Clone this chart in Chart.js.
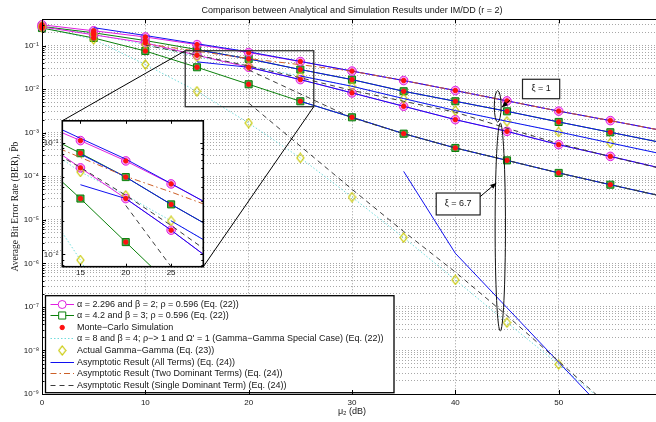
<!DOCTYPE html>
<html>
<head>
<meta charset="utf-8">
<title>BER under IM/DD</title>
<script src="https://cdn.jsdelivr.net/npm/chart.js@4.4.1/dist/chart.umd.min.js"></script>
<style>
  html, body { margin: 0; padding: 0; background: #fff; overflow: hidden; }
  #wrap { position: relative; width: 656px; height: 422px; overflow: hidden; background: #fff; }
  #main { position: absolute; left: 0; top: 0; }
  #zoom { position: absolute; left: 40px; top: 112px; }
</style>
</head>
<body>
<div id="wrap">
  <canvas id="main" width="668" height="422"></canvas>
  <canvas id="zoom" width="170" height="172"></canvas>
</div>
<script>
// SNR axis, mu_2 in dB
const snr = [0, 5, 10, 15, 20, 25, 30, 35, 40, 45, 50, 55, 60];
const xTicks = [0, 10, 20, 30, 40, 50];
const insetXTicks = [15, 20, 25];

// Exact BER, xi = 1
const berA = [0.299, 0.218, 0.157, 0.105, 0.0690, 0.0429, 0.0259, 0.0157, 0.00925, 0.00536, 0.00312, 0.00189, 0.00112];      // alpha 2.296, beta 2
const berB = [0.274, 0.196, 0.130, 0.0809, 0.0494, 0.0281, 0.0165, 0.00891, 0.00525, 0.00309, 0.00176, 0.00102, 0.000589];   // alpha 4.2, beta 3
const berC = [0.282, 0.182, 0.105, 0.0550, 0.0339, 0.0200, 0.0116, 0.00605, 0.00321, 0.00182, 0.00104, 0.000579, 0.000324];  // alpha 8, beta 4
// Exact BER, xi = 6.7
const berD = [0.269, 0.176, 0.115, 0.0598, 0.0317, 0.0165, 0.00818, 0.00403, 0.00199, 0.00107, 0.000530, 0.000285, 0.000151];
const berE = [0.252, 0.149, 0.0748, 0.0317, 0.0129, 0.00525, 0.00225, 0.000948, 0.000445, 0.000231, 0.000119, 0.0000638, 0.0000347];
const berF = [0.263, 0.138, 0.0366, 0.00891, 0.00166, 0.000263, 3.31e-5, 3.89e-6, 4.17e-7, 4.37e-8, 4.79e-9, 5.0e-10, 5.0e-11];

// Asymptotic result, all terms
const allA = [null, 0.257, 0.170, 0.110, 0.0716, 0.0432, 0.0259, 0.0157, 0.00925, 0.00536, 0.00312, 0.00189, 0.00112];
const allB = [null, null, null, 0.0795, 0.0494, 0.0281, 0.0165, 0.00891, 0.00525, 0.00309, 0.00176, 0.00102, 0.000589];
const allC = [null, null, null, null, null, 0.0200, 0.0116, 0.00605, 0.00321, 0.00182, 0.00104, 0.000579, 0.000324];
const allD = [null, null, null, 0.0422, 0.0317, 0.0165, 0.00818, 0.00403, 0.00199, 0.00107, 0.000530, 0.000285, 0.000151];
const allE = [null, null, null, null, null, 0.00525, 0.00225, 0.000948, 0.000445, 0.000231, 0.000119, 0.0000638, 0.0000347];
const allF = [null, null, null, null, null, null, null, 1.29e-4, 1.70e-6, 9.55e-8, 5.37e-9, 3.02e-10, null];
// Asymptotic result, two dominant terms
const twoA = [null, null, 0.110, 0.0741, 0.0501, 0.0363, 0.0257, 0.0157, 0.00925, 0.00536, 0.00312, 0.00189, 0.00112];
// Asymptotic result, single dominant term
const oneD = [null, null, 0.102, 0.0603, 0.0339, 0.0182, 0.00933, 0.00525, 0.00295, 0.00126, 0.000562, 0.000282, 0.000148];
const oneE = [null, null, null, null, 0.0275, 0.00776, 0.00219, 0.000948, 0.000445, 0.000231, 0.000119, 0.0000638, 0.0000347];
const oneF = [null, null, null, null, 0.00479, 0.000490, 5.01e-5, 5.37e-6, 6.31e-7, 6.31e-8, 5.62e-9, 5.01e-10, null];

const TXT = '#161616';
const SANS = "'Liberation Sans', Arial, sans-serif";
const SERIF = "'Liberation Serif', 'Times New Roman', serif";
const MAG = '#e01ee0', MAG_FILL = 'rgba(240,130,240,0.75)';
const GRN = '#0a800a', GRN_FILL = 'rgba(40,140,40,0.8)';
const BLU = '#1010f0';
const BRN = '#cc6028';
const GRY = '#3c3c3c';
const CYN = '#70dcdc';
const YEL = '#c8c800';
const RED = '#ff1010';

function diamondImage() {
  const c = document.createElement('canvas');
  c.width = 9; c.height = 11;
  const g = c.getContext('2d');
  g.strokeStyle = YEL; g.lineWidth = 1.2;
  g.beginPath(); g.moveTo(4.5, 1); g.lineTo(8, 5.5); g.lineTo(4.5, 10); g.lineTo(1, 5.5); g.closePath();
  g.stroke();
  return c;
}
const DIAMOND = diamondImage();

function series(values, lastX) {
  return snr.map((x, i) => ({x, y: values[i]}))
            .filter(p => p.y != null && (lastX === undefined || p.x <= lastX));
}

function buildDatasets(clip) {
  const base = {showLine: true, tension: 0, clip, pointRadius: 0, borderWidth: 1, fill: false, spanGaps: false};
  const exact = (vals, color, style, bg, r) => ({...base, data: series(vals), borderColor: color,
    pointStyle: style, pointRadius: r, pointBackgroundColor: bg, pointBorderColor: color, pointBorderWidth: 1, order: 8});
  const plain = (vals, color, dash, order) => ({...base, data: series(vals), borderColor: color, borderDash: dash, order});
  const dots = (vals, style, r, bg, border, order) => ({...base, showLine: false, data: series(vals, 55),
    pointStyle: style, pointRadius: r, pointBackgroundColor: bg, pointBorderColor: border, pointBorderWidth: 1, order});
  return [
    plain(berC, CYN, [1.5, 2], 9),
    plain(berF, CYN, [1.5, 2], 9),
    exact(berA, MAG, 'circle', MAG_FILL, 4.3),
    exact(berD, MAG, 'circle', MAG_FILL, 4.3),
    exact(berB, GRN, 'rect', GRN_FILL, 5),
    exact(berE, GRN, 'rect', GRN_FILL, 5),
    dots(berC, DIAMOND, 5, 'transparent', YEL, 6),
    dots(berF, DIAMOND, 5, 'transparent', YEL, 6),
    plain(allA, BLU, [], 5),
    plain(allB, BLU, [], 5),
    plain(allC, BLU, [], 5),
    plain(allD, BLU, [], 5),
    plain(allE, BLU, [], 5),
    plain(allF, BLU, [], 5),
    plain(twoA, BRN, [6, 3, 1.5, 3], 4),
    plain(oneD, GRY, [5, 4], 3),
    plain(oneE, GRY, [5, 4], 3),
    plain(oneF, GRY, [5, 4], 3),
    dots(berA, 'circle', 2.2, RED, RED, 1),
    dots(berB, 'circle', 2.2, RED, RED, 1),
    dots(berD, 'circle', 2.2, RED, RED, 1),
    dots(berE, 'circle', 2.2, RED, RED, 1)
  ];
}

const SUP = {'-': '\u207B', '0': '\u2070', '1': '\u00B9', '2': '\u00B2', '3': '\u00B3', '4': '\u2074',
             '5': '\u2075', '6': '\u2076', '7': '\u2077', '8': '\u2078', '9': '\u2079'};
function powerLabel(v) {
  const e = Math.round(Math.log10(v));
  return '10' + String(e).split('').map(c => SUP[c]).join('');
}
function logTicks(min, max) {
  const t = [];
  for (let e = Math.floor(Math.log10(min)); e <= Math.ceil(Math.log10(max)); e++) {
    for (let m = 1; m <= 9; m++) {
      const v = m * Math.pow(10, e);
      if (v >= min * 0.999999 && v <= max * 1.000001) t.push({value: v, major: m === 1});
    }
  }
  return t;
}

function inwardTicks(chart, majorLen, minorLen) {
  const {ctx, chartArea: ca, scales: {x, y}} = chart;
  ctx.save();
  ctx.strokeStyle = '#000'; ctx.lineWidth = 1;
  ctx.beginPath();
  x.ticks.forEach(t => {
    const px = Math.round(x.getPixelForValue(t.value)) + 0.5;
    if (px <= ca.left + 1 || px >= ca.right - 1) return;
    ctx.moveTo(px, ca.bottom); ctx.lineTo(px, ca.bottom - majorLen);
    ctx.moveTo(px, ca.top); ctx.lineTo(px, ca.top + majorLen);
  });
  y.ticks.forEach(t => {
    const py = Math.round(y.getPixelForValue(t.value)) + 0.5;
    if (py <= ca.top + 1 || py >= ca.bottom - 1) return;
    const len = t.major ? majorLen : minorLen;
    ctx.moveTo(ca.left, py); ctx.lineTo(ca.left + len, py);
    ctx.moveTo(ca.right, py); ctx.lineTo(ca.right - len, py);
  });
  ctx.stroke();
  ctx.restore();
}

const tickFont = {family: SANS, size: 8};

// ---------- magnified view of the 15-25 dB region ----------
const insetFrame = {
  id: 'insetFrame',
  beforeDraw(chart) {
    const {ctx, chartArea: ca} = chart;
    ctx.save(); ctx.fillStyle = '#fff';
    ctx.fillRect(ca.left, ca.top, ca.right - ca.left, ca.bottom - ca.top);
    ctx.restore();
  },
  afterDraw(chart) {
    const {ctx, chartArea: ca} = chart;
    inwardTicks(chart, 3, 2);
    ctx.save(); ctx.strokeStyle = '#000'; ctx.lineWidth = 1.6;
    ctx.strokeRect(ca.left, ca.top, ca.right - ca.left, ca.bottom - ca.top);
    ctx.restore();
  }
};

const zoomCanvas = document.getElementById('zoom');
const insetChart = new Chart(zoomCanvas, {
  type: 'line',
  data: {datasets: buildDatasets(0)},
  options: {
    responsive: false, animation: false, events: [], devicePixelRatio: 1,
    layout: {padding: {left: 0, top: 7, right: 6.7, bottom: 0}},
    plugins: {legend: {display: false}, tooltip: {enabled: false}, title: {display: false}},
    scales: {
      x: {type: 'linear', min: 13, max: 28.55,
          afterBuildTicks: s => { s.ticks = insetXTicks.map(v => ({value: v})); },
          ticks: {font: tickFont, color: TXT, padding: 1, maxRotation: 0, autoSkip: false},
          grid: {display: false, drawTicks: false}, border: {display: false},
          afterFit: s => { s.height = 17.3; }},
      y: {type: 'logarithmic', min: 0.00776, max: 0.158,
          afterBuildTicks: s => { s.ticks = logTicks(0.00776, 0.158); },
          ticks: {font: tickFont, color: TXT, padding: 4, autoSkip: false,
                  callback: (v, i, t) => t[i].major ? powerLabel(v) : ''},
          grid: {display: false, drawTicks: false}, border: {display: false},
          afterFit: s => { s.width = 22.3; }}
    }
  },
  plugins: [insetFrame]
});

// ---------- annotations on the main axes ----------
const zoomWindow = {x0: 13.86, x1: 26.3, hi: 0.076, lo: 0.00394};
const xiNotes = [
  {text: '\u03BE = 1', box: [46.5, 50.1, 0.0168, 0.00601],
   ellipse: {x: 44.1, dx: 0.33, hi: 9.18e-3, lo: 1.75e-3}, arrow: [45.3, 5.62e-3, 44.5, 3.82e-3]},
  {text: '\u03BE = 6.7', box: [38.15, 42.4, 4.11e-5, 1.29e-5],
   ellipse: {x: 44.35, dx: 0.5, hi: 1.66e-3, lo: 2.79e-8}, arrow: [42.4, 3.39e-5, 43.96, 6.98e-5]}
];

const legendRows = [
  {label: '\u03B1 = 2.296 and \u03B2 = 2; \u03C1 = 0.596 (Eq. (22))', line: {color: MAG, dash: []}, marker: {style: 'circle', r: 4, stroke: MAG, fill: '#fff'}},
  {label: '\u03B1 = 4.2 and \u03B2 = 3; \u03C1 = 0.596 (Eq. (22))', line: {color: GRN, dash: []}, marker: {style: 'rect', r: 5, stroke: GRN, fill: '#fff'}},
  {label: 'Monte\u2212Carlo Simulation', marker: {style: 'circle', r: 2.2, stroke: RED, fill: RED}},
  {label: '\u03B1 = 8 and \u03B2 = 4; \u03C1\u2212> 1 and \u03A9\' = 1 (Gamma\u2212Gamma Special Case) (Eq. (22))', line: {color: CYN, dash: [1.5, 2]}},
  {label: 'Actual Gamma\u2212Gamma (Eq. (23))', marker: {style: DIAMOND, r: 5, stroke: YEL, fill: 'transparent'}},
  {label: 'Asymptotic Result (All Terms) (Eq. (24))', line: {color: BLU, dash: []}},
  {label: 'Asymptotic Result (Two Dominant Terms) (Eq. (24))', line: {color: BRN, dash: [6, 3, 1.5, 3]}},
  {label: 'Asymptotic Result (Single Dominant Term) (Eq. (24))', line: {color: GRY, dash: [5, 4]}}
];

function arrow(ctx, x0, y0, x1, y1) {
  ctx.beginPath(); ctx.moveTo(x0, y0); ctx.lineTo(x1, y1); ctx.stroke();
  const a = Math.atan2(y1 - y0, x1 - x0), L = 6, W = 2.6;
  ctx.beginPath();
  ctx.moveTo(x1, y1);
  ctx.lineTo(x1 - L * Math.cos(a) + W * Math.sin(a), y1 - L * Math.sin(a) - W * Math.cos(a));
  ctx.lineTo(x1 - L * Math.cos(a) - W * Math.sin(a), y1 - L * Math.sin(a) + W * Math.cos(a));
  ctx.closePath(); ctx.fill();
}

function drawLegend(ctx, ca) {
  const left = ca.left + 3.5, bottom = ca.bottom - 1.3, w = 348.5, h = 97;
  const top = bottom - h;
  ctx.save();
  ctx.fillStyle = '#fff'; ctx.fillRect(left, top, w, h);
  ctx.strokeStyle = '#000'; ctx.lineWidth = 1.3; ctx.strokeRect(left, top, w, h);
  ctx.font = '9px ' + SANS; ctx.textBaseline = 'middle'; ctx.textAlign = 'left';
  legendRows.forEach((row, i) => {
    const cy = Math.round(top + 7.8 + i * 11.65) + 0.5;
    if (row.line) {
      ctx.save();
      ctx.strokeStyle = row.line.color; ctx.lineWidth = 1; ctx.setLineDash(row.line.dash);
      ctx.beginPath(); ctx.moveTo(left + 5, cy); ctx.lineTo(left + 28.5, cy); ctx.stroke();
      ctx.restore();
    }
    if (row.marker) {
      ctx.save();
      ctx.strokeStyle = row.marker.stroke; ctx.fillStyle = row.marker.fill; ctx.lineWidth = 1;
      Chart.helpers.drawPoint(ctx, {pointStyle: row.marker.style, radius: row.marker.r, rotation: 0, borderWidth: 1}, left + 16.7, cy);
      ctx.restore();
    }
    ctx.fillStyle = TXT;
    ctx.fillText(row.label, left + 31.5, cy);
  });
  ctx.restore();
}

const notes = {
  id: 'notes',
  afterDatasetsDraw(chart) {
    const {ctx, chartArea: ca, scales: {x, y}} = chart;
    ctx.save();
    ctx.beginPath(); ctx.rect(ca.left, ca.top, ca.right - ca.left, ca.bottom - ca.top); ctx.clip();

    // zoom window and its connectors to the magnified view
    const bx0 = x.getPixelForValue(zoomWindow.x0), bx1 = x.getPixelForValue(zoomWindow.x1);
    const by0 = y.getPixelForValue(zoomWindow.hi), by1 = y.getPixelForValue(zoomWindow.lo);
    ctx.strokeStyle = '#303030'; ctx.lineWidth = 1.3;
    ctx.strokeRect(bx0, by0, bx1 - bx0, by1 - by0);
    const ia = insetChart.chartArea, ox = zoomCanvas.offsetLeft, oy = zoomCanvas.offsetTop;
    ctx.strokeStyle = '#000'; ctx.lineWidth = 1;
    ctx.beginPath();
    ctx.moveTo(bx0, by0); ctx.lineTo(ox + ia.left, oy + ia.top);
    ctx.moveTo(bx1, by1); ctx.lineTo(ox + ia.right, oy + ia.bottom);
    ctx.stroke();

    // xi groupings
    ctx.font = '9px ' + SANS; ctx.textAlign = 'center'; ctx.textBaseline = 'middle';
    xiNotes.forEach(n => {
      const e = n.ellipse;
      const cx = x.getPixelForValue(e.x);
      const yt = y.getPixelForValue(e.hi), yb = y.getPixelForValue(e.lo);
      const rx = Math.abs(x.getPixelForValue(e.x + e.dx) - cx);
      ctx.strokeStyle = '#111'; ctx.lineWidth = 1;
      ctx.beginPath(); ctx.ellipse(cx, (yt + yb) / 2, rx, (yb - yt) / 2, 0, 0, Math.PI * 2); ctx.stroke();
      const [x0, x1, h, l] = n.box;
      const px0 = x.getPixelForValue(x0), px1 = x.getPixelForValue(x1);
      const py0 = y.getPixelForValue(h), py1 = y.getPixelForValue(l);
      ctx.fillStyle = '#fff'; ctx.fillRect(px0, py0, px1 - px0, py1 - py0);
      ctx.strokeStyle = '#222'; ctx.lineWidth = 1.2; ctx.strokeRect(px0, py0, px1 - px0, py1 - py0);
      ctx.fillStyle = TXT; ctx.fillText(n.text, (px0 + px1) / 2, (py0 + py1) / 2);
      const [ax0, ay0, ax1, ay1] = n.arrow;
      ctx.strokeStyle = '#000'; ctx.fillStyle = '#000'; ctx.lineWidth = 1;
      arrow(ctx, x.getPixelForValue(ax0), y.getPixelForValue(ay0), x.getPixelForValue(ax1), y.getPixelForValue(ay1));
    });
    ctx.restore();

    drawLegend(ctx, ca);
  },
  afterDraw(chart) {
    const {ctx, chartArea: ca} = chart;
    inwardTicks(chart, 4, 2.5);
    ctx.save(); ctx.strokeStyle = '#000'; ctx.lineWidth = 1;
    ctx.strokeRect(Math.round(ca.left) + 0.5, Math.round(ca.top) + 0.5, Math.round(ca.right - ca.left), Math.round(ca.bottom - ca.top));
    ctx.restore();
  }
};

new Chart(document.getElementById('main'), {
  type: 'line',
  data: {datasets: buildDatasets({left: 6, top: 6, right: 6, bottom: 0})},
  options: {
    responsive: false, animation: false, events: [], devicePixelRatio: 1,
    layout: {padding: {left: 0, right: 2, top: 0, bottom: 0}},
    plugins: {
      legend: {display: false}, tooltip: {enabled: false},
      title: {display: true, fullSize: false,
              text: 'Comparison between Analytical and Simulation Results under IM/DD (r = 2)',
              font: {family: SANS, size: 9, weight: 'normal'}, color: TXT, padding: {top: 5, bottom: 3.5}}
    },
    scales: {
      x: {type: 'linear', min: 0, max: 60,
          afterBuildTicks: s => { s.ticks = xTicks.map(v => ({value: v})); },
          ticks: {font: tickFont, color: TXT, padding: 4, maxRotation: 0, autoSkip: false},
          grid: {color: '#9c9c9c', lineWidth: 1, drawTicks: false},
          border: {display: false, dash: [1, 2]},
          title: {display: true, text: '\u03BC\u2082 (dB)', color: TXT, font: {family: SANS, size: 9}, padding: {top: 0, bottom: 4.6}},
          afterFit: s => { s.height = 28; }},
      y: {type: 'logarithmic', min: 1e-9, max: 0.4,
          afterBuildTicks: s => { s.ticks = logTicks(1e-9, 0.4); },
          ticks: {font: tickFont, color: TXT, padding: 3, autoSkip: false,
                  callback: (v, i, t) => t[i].major ? powerLabel(v) : ''},
          grid: {color: '#a8a8a8', lineWidth: 1, drawTicks: false},
          border: {display: false, dash: [1, 2]},
          title: {display: true, text: 'Average Bit Error Rate (BER), P\u0304b', color: TXT,
                  font: {family: SERIF, size: 9.5}, padding: {top: 10, bottom: 0}},
          afterFit: s => { s.width = 42; }}
    }
  },
  plugins: [notes]
});
</script>
</body>
</html>
